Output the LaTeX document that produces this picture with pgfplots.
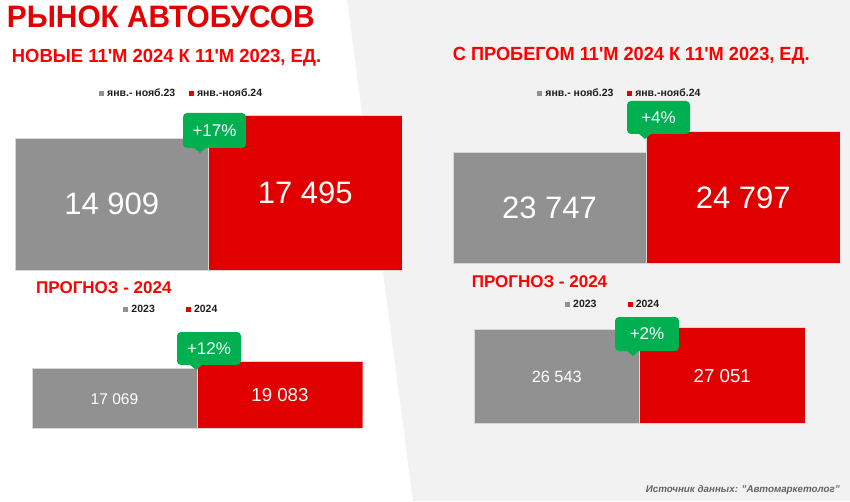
\documentclass[border=0pt]{standalone}
\usepackage{fontspec}
\setmainfont{Liberation Sans}
\usepackage{pgfplots}
\pgfplotsset{compat=1.18}
\definecolor{bargrey}{RGB}{145,145,145}
\definecolor{barred}{RGB}{224,0,0}
\definecolor{titlered}{RGB}{228,0,0}
\definecolor{subred}{RGB}{255,0,0}
\definecolor{callgreen}{RGB}{0,176,80}
\definecolor{bgg}{RGB}{242,242,242}
\definecolor{legtext}{RGB}{30,30,30}
\definecolor{srcgrey}{RGB}{100,100,100}
\definecolor{barline}{RGB}{215,215,215}
\newcommand{\callout}[6]{%
  \fill[callgreen, rounded corners=4pt] (#1,501-#3) rectangle (#2,501-#4);
  \fill[callgreen] (#5-7,501-#4+1) -- (#5,501-#4-5) -- (#5+7,501-#4+1) -- cycle;
  \node[white, font=\fontsize{17}{17}\selectfont, inner sep=0pt] at ({(#1+#2)/2},{501-(#3+#4)/2}) {#6};}
\pgfplotsset{barchart/.style={scale only axis, hide axis, anchor=south west,
  xmin=-0.5, xmax=1.5, enlargelimits=false, clip=true,
  legend image code/.code={\fill[##1,draw=none] (0pt,-2.5pt) rectangle (5pt,2.5pt); \path (8pt,0pt);},
  legend style={draw=none, fill=none, inner sep=0pt, outer sep=0pt, legend columns=2, anchor=west,
    font=\fontsize{10.5}{12}\selectfont\bfseries, text=legtext, nodes={inner sep=0pt}}}}
\newcommand{\q}{\textquotesingle}
\begin{document}
\begin{tikzpicture}[x=1pt,y=1pt]
\useasboundingbox (0,0) rectangle (850,501);
\fill[bgg] (0,0) rectangle (850,501);
\fill[white] (0,0) -- (0,501) -- (347,501) -- (413,0) -- cycle;

% Titles
\node[anchor=base west, inner sep=0pt, text=titlered, font=\fontsize{31}{31}\selectfont\bfseries] at (6.7,473.7) {\scalebox{0.962}[1]{РЫНОК АВТОБУСОВ}};
\node[anchor=base west, inner sep=0pt, text=subred, font=\fontsize{19}{19}\selectfont\bfseries] at (11.7,438.3) {\scalebox{0.97}[1]{НОВЫЕ 11\q М 2024 К 11\q М 2023, ЕД.}};
\node[anchor=base west, inner sep=0pt, text=subred, font=\fontsize{19}{19}\selectfont\bfseries] at (452.7,440.3) {\scalebox{0.957}[1]{С ПРОБЕГОМ 11\q М 2024 К 11\q М 2023, ЕД.}};
\node[anchor=base west, inner sep=0pt, text=subred, font=\fontsize{17}{17}\selectfont\bfseries] at (36,207.7) {ПРОГНОЗ - 2024};
\node[anchor=base west, inner sep=0pt, text=subred, font=\fontsize{17}{17}\selectfont\bfseries] at (471.7,213.7) {ПРОГНОЗ - 2024};
\node[anchor=east, inner sep=0pt, text=srcgrey, font=\fontsize{9.8}{11}\selectfont\bfseries\itshape] at (840,11) {Источник данных: "Автомаркетолог"};

% Chart 1: new, 11M
\begin{axis}[barchart, at={(15pt,231pt)}, width=387pt, height=177pt, ymin=0, ymax=20000,
  legend style={at={(axis description cs:0.2171,0.997)}, /tikz/every even column/.append style={column sep=13.5pt}}]
\addplot[ybar, bar width=1, bar shift=0pt, fill=bargrey, draw=barline] coordinates {(0,14909)};
\addlegendentry{янв.- нояб.23}
\addplot[ybar, bar width=1, bar shift=0pt, fill=barred, draw=barline] coordinates {(1,17495)};
\addlegendentry{янв.-нояб.24}
\node[white, inner sep=0pt, font=\fontsize{31}{31}\selectfont] at (axis cs:0,7454) {14 909};
\node[white, inner sep=0pt, font=\fontsize{31}{31}\selectfont] at (axis cs:1,8748) {17 495};
\end{axis}

% Chart 2: used, 11M
\begin{axis}[barchart, at={(452.7pt,237.7pt)}, width=387.3pt, height=155.2pt, ymin=18000, ymax=26000,
  legend style={at={(axis description cs:0.2184,1.095)}, /tikz/every even column/.append style={column sep=13.5pt}}]
\addplot[ybar, bar width=1, bar shift=0pt, fill=bargrey, draw=barline] coordinates {(0,23747)};
\addlegendentry{янв.- нояб.23}
\addplot[ybar, bar width=1, bar shift=0pt, fill=barred, draw=barline] coordinates {(1,24797)};
\addlegendentry{янв.-нояб.24}
\node[white, inner sep=0pt, font=\fontsize{31}{31}\selectfont] at (axis cs:0,20873) {23 747};
\node[white, inner sep=0pt, font=\fontsize{31}{31}\selectfont] at (axis cs:1,21398) {24 797};
\end{axis}

% Chart 3: new, forecast
\begin{axis}[barchart, at={(31.7pt,72.7pt)}, width=331pt, height=70.3pt, ymin=0, ymax=20000,
  legend style={at={(axis description cs:0.2767,1.683)}, /tikz/every even column/.append style={column sep=31pt}}]
\addplot[ybar, bar width=1, bar shift=0pt, fill=bargrey, draw=barline] coordinates {(0,17069)};
\addlegendentry{2023}
\addplot[ybar, bar width=1, bar shift=0pt, fill=barred, draw=barline] coordinates {(1,19083)};
\addlegendentry{2024}
\node[white, inner sep=0pt, font=\fontsize{15.5}{15.5}\selectfont] at (axis cs:0,8300) {17 069};
\node[white, inner sep=0pt, font=\fontsize{18.7}{18.7}\selectfont] at (axis cs:1,9500) {19 083};
\end{axis}

% Chart 4: used, forecast
\begin{axis}[barchart, at={(474pt,77.7pt)}, width=331pt, height=106.6pt, ymin=0, ymax=30000,
  legend style={at={(axis description cs:0.275,1.116)}, /tikz/every even column/.append style={column sep=31pt}}]
\addplot[ybar, bar width=1, bar shift=0pt, fill=bargrey, draw=barline] coordinates {(0,26543)};
\addlegendentry{2023}
\addplot[ybar, bar width=1, bar shift=0pt, fill=barred, draw=barline] coordinates {(1,27051)};
\addlegendentry{2024}
\node[white, inner sep=0pt, font=\fontsize{16.3}{16.3}\selectfont] at (axis cs:0,13100) {26 543};
\node[white, inner sep=0pt, font=\fontsize{18.7}{18.7}\selectfont] at (axis cs:1,13400) {27 051};
\end{axis}

% Growth callouts
\callout{183}{246}{113}{148}{200}{+17\%}
\callout{627}{690}{101}{134}{645}{+4\%}
\callout{177}{241}{332}{365}{196}{+12\%}
\callout{615}{679}{317}{351}{633}{+2\%}
\end{tikzpicture}
\end{document}
